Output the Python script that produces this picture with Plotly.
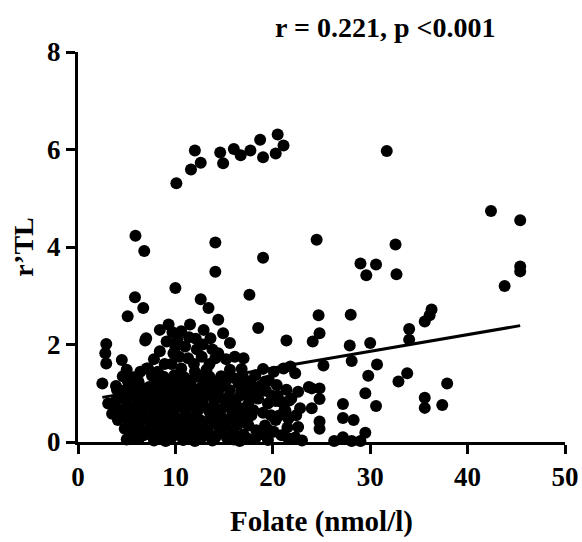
import plotly.graph_objects as go

# Folate concentration (nmol/l) and relative telomere length (r'TL) per subject
folate = [
    # upper group
    10.1, 11.6, 12.0, 12.6, 14.6, 14.9, 16.0, 16.7, 17.7, 18.7, 19.0, 20.3, 20.5, 21.1, 31.7,
    # scattered mid-range values
    5.9, 6.8, 14.1, 14.1, 19.0, 24.5, 10.0, 5.85, 12.6, 17.6, 42.4, 45.4, 32.6, 29.0, 30.6,
    29.6, 32.7, 45.4, 45.4, 43.8,
    # right side, lower values
    24.7, 28.0, 24.8, 24.1, 36.3, 36.1, 35.6, 34.0, 34.0, 27.9, 30.0, 25.2, 28.1, 30.7, 29.8,
    32.9, 33.8, 37.9, 29.5, 30.6, 35.6, 35.6, 37.4, 27.2, 27.2, 28.3, 29.5, 26.3, 27.2, 28.1,
    29.0, 24.8, 24.8, 24.8, 24.8, 24.0, 24.0, 21.4, 21.8, 22.3, 23.7, 22.6, 21.9, 22.8, 22.6,
    21.6, 21.6,
    # left edge
    6.7, 5.1, 6.9, 2.9, 2.8, 2.9, 4.5, 5.0, 2.5, 4.0, 3.1, 3.5, 4.1, 4.8, 5.0, 5.9, 6.7, 6.4,
    7.05,
    # upper part of the main cluster
    13.4, 14.4, 9.3, 8.4, 11.5, 10.6, 12.9, 7.0, 9.1, 11.0, 13.6, 8.4, 9.8, 11.3, 12.7, 14.1,
    7.2, 8.2, 10.6, 12.0, 13.2, 14.9, 15.6, 14.4, 16.1, 17.0, 15.6, 18.5, 10.2, 12.1, 9.6,
    12.2, 8.9, 10.0, 11.9, 13.5, 10.4, 12.8, 9.7, 11.4, 7.8, 13.8, 16.8, 19.0, 15.2,
    # x 15-22, lower values
    18.2, 20.1, 21.1, 19.2, 20.4, 21.4, 18.5, 19.5, 20.9, 17.3, 16.5, 17.5, 19.2, 20.1, 20.9,
    18.2, 16.1, 15.1, 17.9, 19.3, 20.5, 21.7, 19.0, 20.2, 21.5, 18.8, 17.8, 16.0, 22.4, 21.2,
    # dense core
    4.6, 5.7, 7.6, 8.8, 9.9, 10.9, 12.4, 13.5, 14.7, 15.8, 16.9,
    5.1, 6.2, 8.1, 9.3, 10.4, 11.5, 12.9, 14.0, 15.2, 16.4, 17.6, 19.6,
    3.9, 5.2, 6.3, 7.3, 8.4, 9.5, 10.5, 11.6, 12.7, 13.9, 14.9, 17.5, 18.8,
    4.6, 5.8, 6.9, 7.9, 9.0, 10.0, 11.1, 12.2, 13.3, 14.4, 15.6, 16.8, 18.3,
    4.4, 5.6, 6.8, 7.9, 9.0, 10.1, 11.2, 12.2, 13.3, 14.4, 15.5, 16.7, 18.0, 19.9,
    3.9, 5.0, 6.2, 7.4, 8.5, 9.6, 10.7, 11.8, 12.8, 14.0, 15.1, 16.2, 17.6, 20.3,
    3.8, 5.0, 6.1, 7.2, 8.3, 9.4, 10.6, 11.7, 12.9, 14.0, 15.2, 16.3, 17.4,
    4.1, 5.3, 6.6, 7.7, 8.8, 9.9, 11.1, 12.3, 13.4, 14.6, 15.8, 16.8, 18.0, 21.3,
    4.6, 5.7, 6.6, 7.7, 8.9, 9.9, 11.0, 12.1, 13.6, 14.6, 15.8, 16.9, 19.8, 20.6,
    5.1, 6.1, 7.2, 8.3, 9.4, 10.5, 11.6, 12.6, 13.7, 15.2, 16.2, 17.2, 20.3,
    5.3, 6.2, 7.4, 8.5, 9.6, 10.8, 11.9, 12.8, 14.1, 16.4,
    5.5, 6.7, 7.9, 9.0, 10.1, 11.2, 12.3, 13.3, 14.8, 15.9, 18.3, 19.5,
    5.8, 7.0, 8.0, 9.2, 10.3, 11.4, 12.5, 13.4, 14.4, 17.0, 19.0,
    6.3, 8.4, 9.6, 11.2, 12.6, 14.1, 15.3, 17.4, 22.3,
    7.8, 9.0, 10.8, 12.0, 13.8, 16.6, 19.5, 23.0,
]

rtl = [
    5.31, 5.59, 5.98, 5.73, 5.94, 5.72, 6.01, 5.88, 5.98, 6.20, 5.84, 5.92, 6.31, 6.08, 5.97,
    4.23, 3.92, 4.09, 3.49, 3.78, 4.15, 3.16, 2.97, 2.93, 3.02, 4.74, 4.55, 4.05, 3.66, 3.64,
    3.42, 3.44, 3.60, 3.50, 3.20,
    2.60, 2.61, 2.23, 2.06, 2.72, 2.60, 2.47, 2.32, 2.10, 1.98, 2.03, 1.57, 1.66, 1.59, 1.36,
    1.24, 1.41, 1.20, 1.00, 0.74, 0.91, 0.70, 0.76, 0.78, 0.49, 0.45, 0.19, 0.02, 0.10, 0.02,
    0.02, 1.10, 0.88, 0.42, 0.27, 1.10, 0.69, 2.08, 1.55, 1.41, 1.13, 1.03, 0.89, 0.69, 0.31,
    0.48, 0.07,
    2.75, 2.58, 2.08, 2.01, 1.82, 1.61, 1.68, 1.48, 1.20, 1.07, 0.79, 0.58, 0.45, 0.27, 0.05,
    0.07, 0.14, 1.44, 1.51,
    2.75, 2.51, 2.41, 2.30, 2.41, 2.27, 2.30, 2.13, 2.06, 1.96, 2.13, 1.86, 1.82, 1.72, 1.75,
    1.72, 1.51, 1.44, 1.51, 1.44, 1.48, 2.23, 2.03, 1.82, 1.75, 1.72, 1.48, 2.34, 2.10, 2.12,
    1.60, 1.90, 1.60, 1.95, 1.60, 1.60, 1.75, 2.00, 2.25, 2.15, 1.70, 1.90, 1.50, 1.50, 1.70,
    1.37, 1.44, 1.51, 1.24, 1.17, 1.07, 0.89, 0.79, 0.82, 1.03, 1.20, 0.34, 0.34, 0.21, 0.14,
    0.07, 0.14, 0.34, 1.15, 1.05, 0.95, 0.85, 0.60, 0.50, 0.30, 0.20, 0.55, 0.05, 0.55, 0.65,
    1.35, 1.33, 1.36, 1.34, 1.37, 1.33, 1.36, 1.34, 1.35, 1.33, 1.36,
    1.25, 1.24, 1.26, 1.25, 1.24, 1.26, 1.25, 1.24, 1.26, 1.25, 1.24, 1.26,
    1.15, 1.14, 1.16, 1.13, 1.15, 1.17, 1.14, 1.16, 1.13, 1.15, 1.17, 1.14, 1.16,
    1.05, 1.06, 1.04, 1.05, 1.06, 1.04, 1.05, 1.06, 1.04, 1.05, 1.06, 1.04, 1.05,
    0.95, 0.96, 0.94, 0.97, 0.95, 0.93, 0.96, 0.94, 0.97, 0.95, 0.93, 0.96, 0.94, 0.95,
    0.85, 0.84, 0.86, 0.85, 0.84, 0.86, 0.85, 0.84, 0.86, 0.85, 0.84, 0.86, 0.85, 0.84,
    0.75, 0.74, 0.77, 0.75, 0.73, 0.76, 0.74, 0.77, 0.75, 0.73, 0.76, 0.74, 0.75,
    0.65, 0.64, 0.66, 0.65, 0.64, 0.66, 0.65, 0.64, 0.66, 0.65, 0.64, 0.66, 0.65, 0.64,
    0.55, 0.56, 0.54, 0.57, 0.55, 0.53, 0.56, 0.54, 0.57, 0.55, 0.53, 0.56, 0.55, 0.54,
    0.45, 0.44, 0.46, 0.45, 0.44, 0.46, 0.45, 0.44, 0.46, 0.45, 0.44, 0.46, 0.45,
    0.35, 0.36, 0.34, 0.37, 0.35, 0.33, 0.36, 0.34, 0.37, 0.35,
    0.25, 0.24, 0.26, 0.25, 0.24, 0.26, 0.25, 0.24, 0.26, 0.25, 0.24, 0.26,
    0.15, 0.16, 0.14, 0.17, 0.15, 0.13, 0.16, 0.14, 0.17, 0.15, 0.16,
    0.08, 0.07, 0.09, 0.08, 0.07, 0.09, 0.08, 0.07, 0.09,
    0.03, 0.02, 0.04, 0.02, 0.03, 0.02, 0.04, 0.03,
]

# Linear regression line across the observed folate range
fit_intercept = 0.83
fit_slope = 0.0343
fit_x = [2.5, 45.4]
fit_y = [fit_intercept + fit_slope * x for x in fit_x]

x_ticks = [0, 10, 20, 30, 40, 50]
y_ticks = [0, 2, 4, 6, 8]

serif = "Liberation Serif"

fig = go.Figure()
fig.add_trace(go.Scatter(
    x=folate, y=rtl, mode="markers",
    marker=dict(size=12, color="black", line=dict(width=0)),
    cliponaxis=False, showlegend=False,
))
fig.add_trace(go.Scatter(
    x=fit_x, y=fit_y, mode="lines",
    line=dict(color="black", width=3),
    cliponaxis=False, showlegend=False,
))

axis_common = dict(
    showgrid=False, zeroline=False, showline=True, linecolor="black", linewidth=3,
    ticks="outside", ticklen=9, tickwidth=3, tickcolor="black",
    tickfont=dict(family=serif, size=27, color="black", weight="bold"),
    automargin=False,
)

fig.update_layout(
    width=582, height=542,
    margin=dict(l=78, r=17, t=52, b=100),
    paper_bgcolor="white", plot_bgcolor="white",
    xaxis=dict(
        range=[0, 50], tickvals=x_ticks,
        title=dict(text="Folate (nmol/l)", standoff=20,
                   font=dict(family=serif, size=29, color="black", weight="bold")),
        **axis_common,
    ),
    yaxis=dict(
        range=[0, 8], tickvals=y_ticks,
        title=dict(text="r\u2019TL", standoff=6,
                   font=dict(family=serif, size=28, color="black", weight="bold")),
        **axis_common,
    ),
    annotations=[dict(
        text="r = 0.221, p <0.001", xref="paper", yref="paper",
        x=0.63, y=1.062, xanchor="center", yanchor="middle", showarrow=False,
        font=dict(family=serif, size=28, color="black", weight="bold"),
    )],
)

fig.write_html("out.html")
